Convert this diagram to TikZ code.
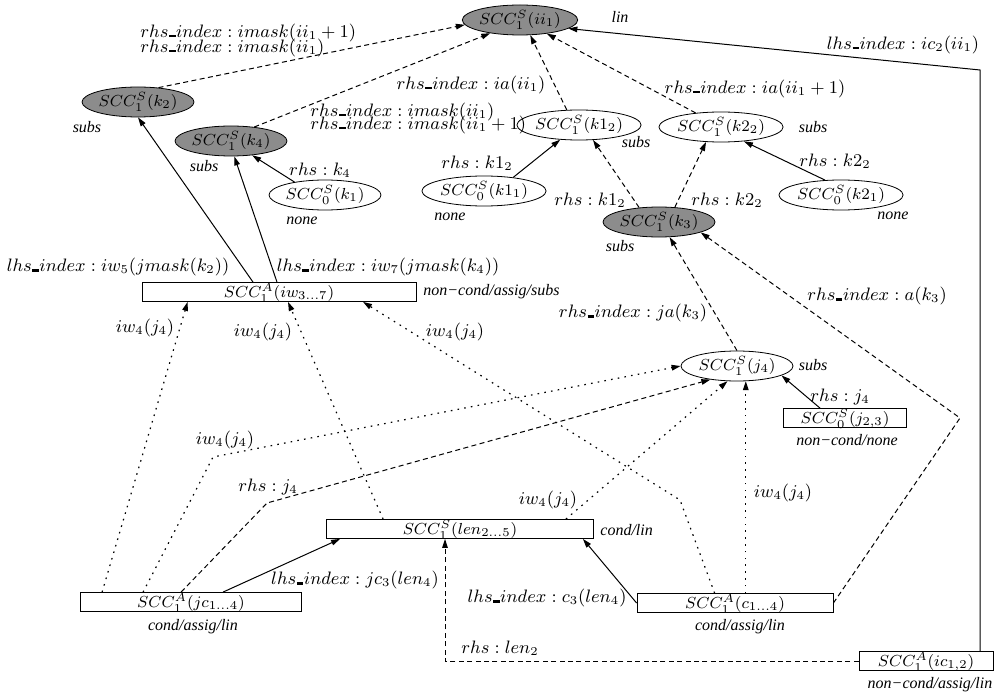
\documentclass[tikz,border=0pt]{standalone}
\usepackage{fontspec}
\newfontfamily\figit{Liberation Serif}
\usepackage{tikz}
\usetikzlibrary{arrows.meta,positioning,shapes.geometric,calc}
\newcommand{\idxbar}{\mbox{\kern0.3pt\rule{3.2pt}{1.1pt}\kern0.3pt}}

\begin{document}
\begin{tikzpicture}[
  x=0.5pt, y=-0.5pt,
  sccg/.style={draw, ellipse, fill=black!45, minimum width=56pt, minimum height=15pt, inner sep=0pt, font=\fontsize{8.5}{10}\selectfont},
  sccw/.style={draw, ellipse, fill=white, minimum width=56pt, minimum height=15pt, inner sep=0pt, font=\fontsize{8.5}{10}\selectfont},
  sccbox/.style={draw, rectangle, fill=white, minimum height=9.5pt, inner xsep=0pt, inner ysep=2.25pt, text height=5pt, text depth=0pt, font=\fontsize{8.5}{10}\selectfont},
  ann/.style={font=\figit\itshape\fontsize{8}{9}\selectfont, inner sep=0pt},
  lbl/.style={font=\fontsize{9}{10}\selectfont, inner sep=0pt},
  arrow/.style={-{Triangle[length=4.5pt,width=2.8pt]}, line width=0.5pt},
  darrow/.style={arrow, dash pattern=on 2.5pt off 1.7pt},
  oarrow/.style={arrow, line width=0.6pt, dash pattern=on 0.8pt off 2.6pt},
]
\useasboundingbox (0,0) rectangle (994,695);

% scalar and array SCCs
\node[sccg] (ii1) at (520,20) {$SCC_1^S(ii_1)$};
\node[sccg] (k2) at (138,102) {$SCC_1^S(k_2)$};
\node[sccg] (k4) at (231,141) {$SCC_1^S(k_4)$};
\node[sccw] (k1) at (325,195) {$SCC_0^S(k_1)$};
\node[sccw] (k11) at (484,191) {$SCC_0^S(k1_1)$};
\node[sccw] (k12) at (579,125) {$SCC_1^S(k1_2)$};
\node[sccw] (k22) at (721,127) {$SCC_1^S(k2_2)$};
\node[sccw] (k21) at (841,195) {$SCC_0^S(k2_1)$};
\node[sccg] (k3) at (659,222) {$SCC_1^S(k_3)$};
\node[sccw] (j4) at (737,366) {$SCC_1^S(j_4)$};
\node[sccbox, minimum width=137pt] (iw) at (279,292) {$SCC_1^A(iw_{3\ldots7})$};
\node[sccbox, minimum width=61.5pt] (j23) at (845,418) {$SCC_0^S(j_{2,3})$};
\node[sccbox, minimum width=133.5pt] (len) at (460,529) {$SCC_1^S(len_{2\ldots5})$};
\node[sccbox, minimum width=110.5pt] (jc) at (191,602) {$SCC_1^A(jc_{1\ldots4})$};
\node[sccbox, minimum width=98pt] (c) at (735,603) {$SCC_1^A(c_{1\ldots4})$};
\node[sccbox, minimum width=67pt] (ic) at (926,661) {$SCC_1^A(ic_{1,2})$};

% classes
\node[ann] (ii1t) at (620,17) {lin};
\node[ann] (k2t) at (87,127) {subs};
\node[ann] (k4t) at (204,166) {subs};
\node[ann] (k1t) at (302,221) {none};
\node[ann] (k11t) at (450,217) {none};
\node[ann] (k12t) at (636,142) {subs};
\node[ann] (k22t) at (813,127) {subs};
\node[ann] (k21t) at (893,216) {none};
\node[ann] (k3t) at (620,246) {subs};
\node[ann, anchor=west] (iwt) at (423,292) {non−cond/assig/subs};
\node[ann] (j4t) at (813,365) {subs};
\node[ann] (j23t) at (847,440) {non−cond/none};
\node[ann, anchor=west] (lent) at (600,530) {cond/lin};
\node[ann] (jct) at (193,627) {cond/assig/lin};
\node[ann] (ct) at (740,627) {cond/assig/lin};
\node[ann] (ict) at (930,685) {non−cond/assig/lin};

% dependences
\draw[darrow] (k2.35) -- (ii1.185);
\draw[darrow] (k4.31) -- (ii1.204);
\draw[darrow] (k12.129) -- (ii1.304);
\draw[darrow] (k22.151) -- (ii1.333);
\coordinate (icup) at (980,70);
\draw[arrow] (icup |- ic.north) -- (icup) -- (ii1.350);
\draw[arrow] (k1.157) -- (k4.326);
\draw[arrow] ($(iw.north)+(-26,0)$) -- (k2.south);
\draw[arrow] ($(iw.north)+(-2,0)$) -- (k4.282);
\draw[arrow] (k11.25) -- (k12.218);
\draw[darrow] (k3.144) -- (k12.313);
\draw[darrow] (k3.43) -- (k22.225);
\draw[arrow] (k21.137) -- (k22.328);
\draw[darrow] (j4.north) -- (k3.305);
\coordinate (cbend) at (960,418);
\draw[darrow] (c.east) -- (cbend) -- (k3.346);
\draw[arrow] ($(j23.north)+(-25,0)$) -- (j4.348);
\draw[oarrow] ($(jc.north west)+(22,0)$) -- ($(iw.south west)+(46,0)$);
\coordinate (jcq) at (213,457);
\draw[oarrow] ($(jc.north west)+(63,0)$) -- (jcq) -- (j4.west);
\coordinate (jcr) at (267,503);
\draw[darrow] ($(jc.north west)+(101,0)$) -- (jcr) -- (j4.207);
\draw[oarrow] ($(len.north west)+(57,0)$) -- ($(iw.south)+(9,0)$);
\coordinate (cbendb) at (680,500);
\draw[oarrow] ($(c.north west)+(78,0)$) -- (cbendb) -- ($(iw.south)+(84,0)$);
\draw[oarrow] (j4.300 |- c.north) -- (j4.300);
\draw[oarrow] ($(len.north east)+(-28,0)$) -- (j4.238);
\draw[arrow] ($(jc.north)+(32,0)$) -- ($(len.south west)+(14,0)$);
\draw[arrow] (c.west) -- ($(len.south east)+(-11,0)$);
\draw[darrow] (ic.west) -| ($(len.south)+(-15,0)$);

% labels
\node[lbl, anchor=west] (la1) at (140,33) {$rhs\idxbar index : imask(ii_1 + 1)$};
\node[lbl, anchor=west] (la2) at (140,48) {$rhs\idxbar index : imask(ii_1)$};
\node[lbl, anchor=west] (lb1) at (310,112) {$rhs\idxbar index : imask(ii_1)$};
\node[lbl, anchor=west] (lb2) at (310,125) {$rhs\idxbar index : imask(ii_1 + 1)$};
\node[lbl] (lc) at (471,85) {$rhs\idxbar index : ia(ii_1)$};
\node[lbl] (ld) at (755,89) {$rhs\idxbar index : ia(ii_1 + 1)$};
\node[lbl] (le) at (903,45) {$lhs\idxbar index : ic_2(ii_1)$};
\node[lbl] (lf) at (320,170) {$rhs : k_4$};
\node[lbl] (lg) at (118,267) {$lhs\idxbar index : iw_5(jmask(k_2))$};
\node[lbl] (lh) at (388,267) {$lhs\idxbar index : iw_7(jmask(k_4))$};
\node[lbl] (li) at (477,163) {$rhs : k1_2$};
\node[lbl] (lj) at (590,200) {$rhs : k1_2$};
\node[lbl] (lk) at (727,200) {$rhs : k2_2$};
\node[lbl] (ll) at (835,161) {$rhs : k2_2$};
\node[lbl] (lm) at (633,313) {$rhs\idxbar index : ja(k_3)$};
\node[lbl] (ln) at (877,296) {$rhs\idxbar index : a(k_3)$};
\node[lbl] (lo) at (840,397) {$rhs : j_4$};
\node[lbl] (lp) at (145,328) {$iw_4(j_4)$};
\node[lbl] (lq) at (225,440) {$iw_4(j_4)$};
\node[lbl] (lr) at (268,487) {$rhs : j_4$};
\node[lbl] (ls) at (263,332) {$iw_4(j_4)$};
\node[lbl] (lt) at (455,332) {$iw_4(j_4)$};
\node[lbl] (lu) at (783,493) {$iw_4(j_4)$};
\node[lbl] (lv) at (548,500) {$iw_4(j_4)$};
\node[lbl] (lw) at (355,580) {$lhs\idxbar index : jc_3(len_4)$};
\node[lbl] (lx) at (547,598) {$lhs\idxbar index : c_3(len_4)$};
\node[lbl] (ly) at (500,648) {$rhs : len_2$};

\end{tikzpicture}
\end{document}
